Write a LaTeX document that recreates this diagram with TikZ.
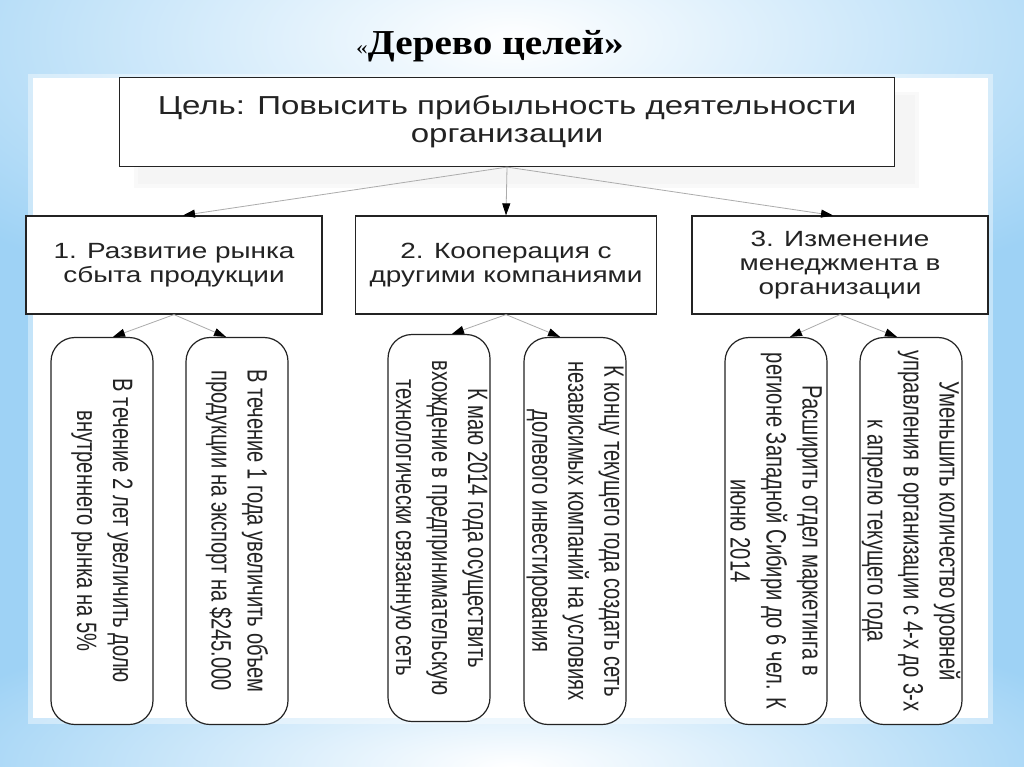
\documentclass[tikz,border=0pt]{standalone}
\usepackage{fontspec}
\usetikzlibrary{arrows.meta}
\newfontfamily\wideface[FakeStretch=1.27]{Liberation Sans}
\newfontfamily\narrowface[FakeStretch=0.72]{Liberation Sans}
\newfontfamily\titleface[FakeStretch=1.12]{Liberation Serif}
\definecolor{bgblue}{RGB}{158,210,245}
\definecolor{ink}{RGB}{35,35,35}

\begin{document}
\begin{tikzpicture}[x=1pt,y=-1pt,line width=1.2pt,
  topbox/.style={draw=ink,fill=white,text=ink,align=center,inner sep=0pt,
    minimum width=775,minimum height=89,font=\wideface\fontsize{26}{28}\selectfont},
  taskbox/.style={draw=ink,fill=white,text=ink,align=center,inner sep=0pt,
    minimum width=296,minimum height=98,font=\wideface\fontsize{22}{24}\selectfont},
  goalbox/.style={draw=ink,fill=white,text=ink,align=center,inner sep=0pt,
    rounded corners=24,rotate=-90,minimum width=387,minimum height=102,
    font=\narrowface\fontsize{28}{36}\selectfont},
  arr/.style={draw=gray!65,line width=0.8pt,-{Triangle[black,length=12pt,width=8pt]}}]
  \useasboundingbox (0,0) rectangle (1024,767);
  \clip (0,0) rectangle (1024,767);
  % slide background
  \fill[bgblue] (0,0) rectangle (1024,767);
  \shade[inner color=white,outer color=bgblue] (-200,-250) rectangle (1224,330);
  \shade[inner color=white,outer color=bgblue] (-100,600) rectangle (1124,934);
  \fill[white,opacity=0.4] (28,74) rectangle (993,724);
  \fill[white] (33,78) rectangle (988,718);
  \node[font=\titleface\fontsize{35}{40}\selectfont,anchor=base] (title) at (490,55)
    {{\fontsize{21}{24}\selectfont «}\textbf{Дерево целей»}};
  % level 0
  \fill[gray!5] (134,92) rectangle (919,188);
  \fill[gray!8] (138,95) rectangle (915,184);
  \node[topbox] (goal) at (507,122) {Цель: Повысить прибыльность деятельности\\организации};
  % level 1
  \node[taskbox] (t1) at (174,265) {1. Развитие рынка\\сбыта продукции};
  \node[taskbox,minimum width=301] (t2) at (506,265) {2. Кооперация с\\другими компаниями};
  \node[taskbox] (t3) at (840,265) {3. Изменение\\менеджмента в\\организации};
  % level 2
  \node[goalbox] (g1) at (102,531) {В течение 2 лет увеличить долю\\внутреннего рынка на 5\%};
  \node[goalbox] (g2) at (237,531) {В течение 1 года увеличить объем\\продукции на экспорт на \$245.000};
  \node[goalbox] (g3) at (439,528) {К маю 2014 года осуществить\\вхождение в предпринимательскую\\технологически связанную сеть};
  \node[goalbox] (g4) at (575,531) {К концу текущего года создать сеть\\независимых компаний на условиях\\долевого инвестирования};
  \node[goalbox] (g5) at (776,531) {Расширить отдел маркетинга в\\регионе Западной Сибири до 6 чел. К\\июню 2014};
  \node[goalbox] (g6) at (911,531) {Уменьшить количество уровней\\управления в организации с 4-х до 3-х\\к апрелю текущего года};
  % connectors
  \draw[arr] (goal.south) -- ([xshift=9]t1.north);
  \draw[arr] (goal.south) -- (t2.north);
  \draw[arr] (goal.south) -- ([xshift=-7]t3.north);
  \draw[arr] (t1.south) -- ([xshift=11]g1.west);
  \draw[arr] (t1.south) -- ([xshift=-11]g2.west);
  \draw[arr] (t2.south) -- ([xshift=13]g3.west);
  \draw[arr] (t2.south) -- ([xshift=-15]g4.west);
  \draw[arr] (t3.south) -- ([xshift=14]g5.west);
  \draw[arr] (t3.south) -- ([xshift=-14]g6.west);
\end{tikzpicture}
\end{document}
